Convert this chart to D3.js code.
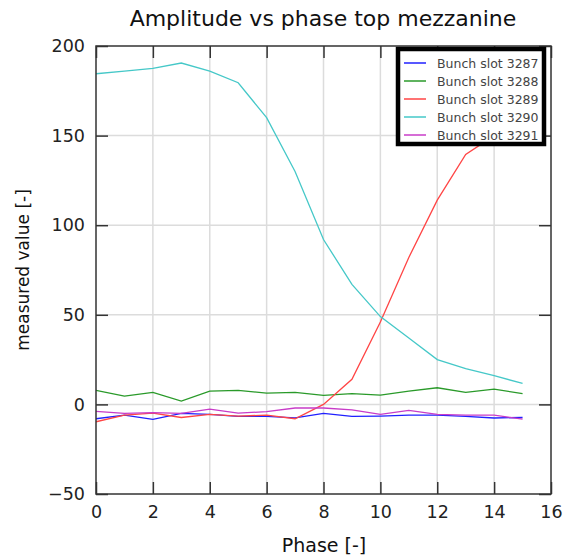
<!DOCTYPE html>
<html>
<head>
<meta charset="utf-8">
<script src="https://cdn.jsdelivr.net/npm/d3@7"></script>
<style>
  body { margin: 0; background: #fff; }
  svg { font-family: "DejaVu Sans", sans-serif; }
</style>
</head>
<body>
<div id="app"></div>
<script>
var phases = [0, 1, 2, 3, 4, 5, 6, 7, 8, 9, 10, 11, 12, 13, 14, 15];
var slot3287 = [-8, -6, -8.4, -5, -5.6, -6.7, -6.7, -7.5, -5, -6.7, -6.5, -6, -6, -6.7, -7.6, -7.3];
var slot3288 = [7.8, 4.6, 6.7, 1.8, 7.4, 7.8, 6.3, 6.7, 5, 6, 5.2, 7.4, 9.3, 6.7, 8.5, 6];
var slot3289 = [-9.7, -6, -4.9, -7.3, -5.6, -6.5, -6, -8, 0, 14, 46, 82, 114, 139.5, 150, 162];
var slot3290 = [184.5, 186, 187.5, 190.5, 186, 179.5, 160, 130, 92, 67, 49, 37, 25, 20, 16, 11.7];
var slot3291 = [-3.9, -5, -4.6, -5, -2.6, -4.9, -4, -2, -2, -3, -5.6, -3.3, -5.6, -6, -6, -8.2];

var seriesNames = ['Bunch slot 3287', 'Bunch slot 3288', 'Bunch slot 3289', 'Bunch slot 3290', 'Bunch slot 3291'];
var seriesColors = ['#2020ff', '#2a9a2a', '#ff4545', '#45c8c8', '#c83cc8'];
var xTicks = [0, 2, 4, 6, 8, 10, 12, 14, 16];
var yTicks = [-50, 0, 50, 100, 150, 200];

var series = [slot3287, slot3288, slot3289, slot3290, slot3291];

var width = 563, height = 557;
var margin = { left: 96, right: 12, top: 46, bottom: 63 };
var plotW = width - margin.left - margin.right;
var plotH = height - margin.top - margin.bottom;

var svg = d3.select('#app').append('svg')
    .attr('width', width)
    .attr('height', height);

var x = d3.scaleLinear().domain([0, 16]).range([0, plotW]);
var y = d3.scaleLinear().domain([-50, 200]).range([plotH, 0]);

var g = svg.append('g').attr('transform', 'translate(' + margin.left + ',' + margin.top + ')');

// grid
g.append('g').selectAll('line.gx')
    .data(xTicks.slice(1, -1))
    .enter().append('line')
    .attr('x1', function(d) { return x(d); })
    .attr('x2', function(d) { return x(d); })
    .attr('y1', 0).attr('y2', plotH)
    .attr('stroke', '#dcdcdc').attr('stroke-width', 1.5);
g.append('g').selectAll('line.gy')
    .data(yTicks.slice(1, -1))
    .enter().append('line')
    .attr('y1', function(d) { return y(d); })
    .attr('y2', function(d) { return y(d); })
    .attr('x1', 0).attr('x2', plotW)
    .attr('stroke', '#dcdcdc').attr('stroke-width', 1.5);

// axes with inward ticks
var tickLen = 12;
var axisColor = '#333';
var bottomAxis = g.append('g').attr('transform', 'translate(0,' + plotH + ')')
    .call(d3.axisBottom(x).tickValues(xTicks).tickSize(-tickLen).tickPadding(12).tickSizeOuter(0));
var topAxis = g.append('g')
    .call(d3.axisTop(x).tickValues(xTicks).tickSize(-tickLen).tickFormat('').tickSizeOuter(0));
var leftAxis = g.append('g')
    .call(d3.axisLeft(y).tickValues(yTicks).tickSize(-tickLen).tickPadding(11).tickSizeOuter(0)
        .tickFormat(function(d) { return d < 0 ? '\u2212' + Math.abs(d) : d; }));
var rightAxis = g.append('g').attr('transform', 'translate(' + plotW + ',0)')
    .call(d3.axisRight(y).tickValues(yTicks).tickSize(-tickLen).tickFormat('').tickSizeOuter(0));

[bottomAxis, topAxis, leftAxis, rightAxis].forEach(function(a) {
    a.select('.domain').remove();
    a.selectAll('line').attr('stroke', axisColor).attr('stroke-width', 1.5);
    a.selectAll('text').attr('fill', '#222').style('font-size', '17.5px').style('font-family', '"DejaVu Sans", sans-serif');
});

// clip for lines
svg.append('clipPath').attr('id', 'plotclip')
    .append('rect').attr('width', plotW).attr('height', plotH);

var line = d3.line()
    .x(function(d, i) { return x(phases[i]); })
    .y(function(d) { return y(d); });

var lines = g.append('g').attr('clip-path', 'url(#plotclip)');
series.forEach(function(s, i) {
    lines.append('path')
        .datum(s)
        .attr('d', line)
        .attr('fill', 'none')
        .attr('stroke', seriesColors[i])
        .attr('stroke-width', 1.3);
});

// frame
g.append('rect')
    .attr('width', plotW).attr('height', plotH)
    .attr('fill', 'none').attr('stroke', axisColor).attr('stroke-width', 1.5);

// legend
var lg = g.append('g').attr('transform', 'translate(' + (398 - margin.left) + ',' + (49 - margin.top) + ')');
lg.append('rect')
    .attr('width', 146).attr('height', 95)
    .attr('fill', '#fff').attr('stroke', '#000').attr('stroke-width', 4.5);
seriesNames.forEach(function(name, i) {
    var row = lg.append('g').attr('transform', 'translate(0,' + (14 + i * 18) + ')');
    row.append('line')
        .attr('x1', 6).attr('x2', 28)
        .attr('y1', 0).attr('y2', 0)
        .attr('stroke', seriesColors[i]).attr('stroke-width', 1.5);
    row.append('text')
        .attr('x', 39).attr('y', 4.5)
        .attr('fill', '#444')
        .style('font-size', '12.5px')
        .text(name);
});

// title and labels
svg.append('text')
    .attr('x', 323).attr('y', 26)
    .attr('text-anchor', 'middle')
    .attr('fill', '#111')
    .style('font-size', '22px')
    .text('Amplitude vs phase top mezzanine');
svg.append('text')
    .attr('x', 324).attr('y', 552)
    .attr('text-anchor', 'middle')
    .attr('fill', '#111')
    .style('font-size', '19px')
    .text('Phase [-]');
svg.append('text')
    .attr('transform', 'translate(29,' + (margin.top + plotH / 2) + ') rotate(-90)')
    .attr('text-anchor', 'middle')
    .attr('fill', '#111')
    .style('font-size', '17px')
    .text('measured value [-]');
</script>
</body>
</html>
